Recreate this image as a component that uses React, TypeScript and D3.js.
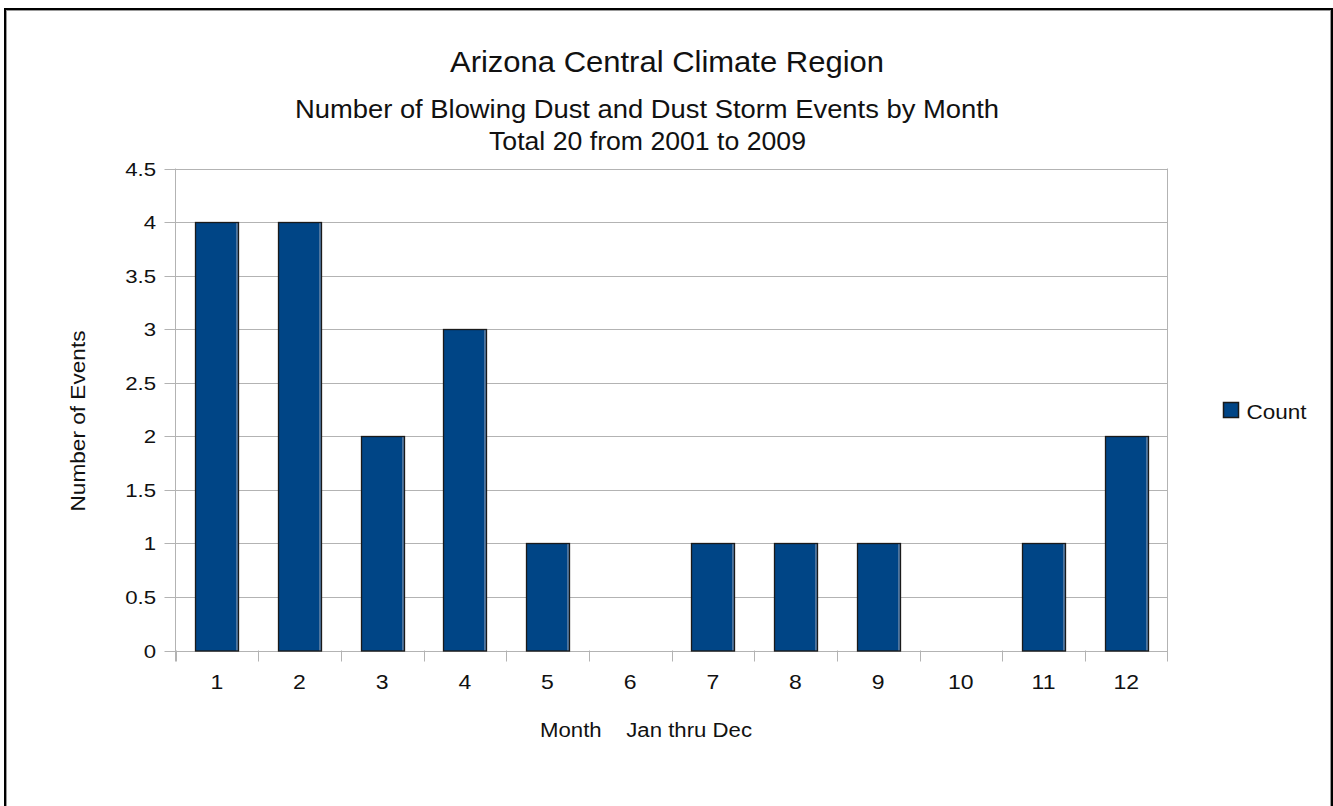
import React from "react";
import * as d3 from "d3";

const months = ["1", "2", "3", "4", "5", "6", "7", "8", "9", "10", "11", "12"];
const counts = [4, 4, 2, 3, 1, 0, 1, 1, 1, 0, 1, 2];
const yTicks = [0, 0.5, 1, 1.5, 2, 2.5, 3, 3.5, 4, 4.5];
const seriesName = "Count";
const titleText = "Arizona Central Climate Region";
const subtitle1 = "Number of Blowing Dust and Dust Storm Events by Month";
const subtitle2 = "Total 20 from 2001 to 2009";
const xTitle = "Month    Jan thru Dec";
const yTitle = "Number of Events";

const W = 1333;
const H = 806;
const FONT = "'Liberation Sans', Arial, sans-serif";

export default function App() {
  const left = 175.5, right = 1167.5, top = 168.5, bottom = 650.5;
  const x = d3.scaleBand<string>().domain(months).range([left, right]).paddingInner(0).paddingOuter(0);
  const y = d3.scaleLinear().domain([0, 4.5]).range([bottom, top]);
  const bw = x.bandwidth() * 0.52;
  const blue = "#004586";
  const stretch = { lengthAdjust: "spacingAndGlyphs" as const };

  return (
    <svg width={W} height={H} style={{ position: "fixed", left: 0, top: 0, background: "#fff" }} fontFamily={FONT}>
      <rect x={0} y={0} width={W} height={H} fill="#fff" />
      <rect x={5} y={9} width={1327} height={900} fill="none" stroke="#000" strokeWidth={2} />
      <rect x={6.5} y={10.5} width={1324} height={900} fill="none" stroke="#999" strokeWidth={1} />

      <text x={450} y={72} fontSize={30} fill="#111" textLength={434} {...stretch}>{titleText}</text>
      <text x={295} y={118} fontSize={25} fill="#111" textLength={704} {...stretch}>{subtitle1}</text>
      <text x={489} y={150} fontSize={25} fill="#111" textLength={317} {...stretch}>{subtitle2}</text>

      {yTicks.map((t) => {
        const yy = Math.round(y(t)) + 0.5;
        return (
          <g key={t}>
            <line x1={left - 11} x2={right} y1={yy} y2={yy} stroke="#b3b3b3" strokeWidth={1} />
            <g transform={`translate(156,${yy + 6.5}) scale(1.17,1)`}>
              <text x={0} y={0} textAnchor="end" fontSize={19} fill="#111">{t}</text>
            </g>
          </g>
        );
      })}
      <line x1={left} x2={left} y1={top} y2={bottom + 11} stroke="#b3b3b3" />
      <line x1={right} x2={right} y1={top} y2={bottom + 11} stroke="#b3b3b3" />
      {months.map((m) => (
        <line key={"t" + m} x1={Math.round(x(m)!) + 0.5} x2={Math.round(x(m)!) + 0.5} y1={bottom} y2={bottom + 11} stroke="#b3b3b3" />
      ))}

      {months.map((m, i) => {
        if (counts[i] <= 0) return null;
        const cx = x(m)! + x.bandwidth() / 2;
        const x0 = Math.round(cx - bw / 2) + 0.5;
        const w = Math.round(bw);
        const yv = Math.round(y(counts[i])) + 0.5;
        const h = Math.round(y(0)) - yv;
        return (
          <g key={"b" + m}>
            <rect x={x0} y={yv} width={w} height={h} fill={blue} />
            <rect x={x0 + w - 2.5} y={yv} width={2} height={h} fill="#4f76a0" />
            <rect x={x0} y={yv} width={w} height={h} fill="none" stroke="#1a1a1a" strokeWidth={1.3} />
          </g>
        );
      })}

      {months.map((m) => (
        <g key={"l" + m} transform={`translate(${x(m)! + x.bandwidth() / 2},689) scale(1.15,1)`}>
          <text x={0} y={0} textAnchor="middle" fontSize={20} fill="#111">{m}</text>
        </g>
      ))}

      <text x={540} y={737} fontSize={20} fill="#111" textLength={212} {...stretch} style={{ whiteSpace: "pre" }}>{xTitle}</text>
      <text transform={`translate(85,421) rotate(-90)`} x={-90.5} y={0} fontSize={20} fill="#111" textLength={181} {...stretch}>{yTitle}</text>

      <rect x={1223.5} y={402.5} width={15} height={15} fill={blue} stroke="#1a1a1a" strokeWidth={1.5} />
      <text x={1246.5} y={419} fontSize={20} fill="#111" textLength={60} {...stretch}>{seriesName}</text>
    </svg>
  );
}
